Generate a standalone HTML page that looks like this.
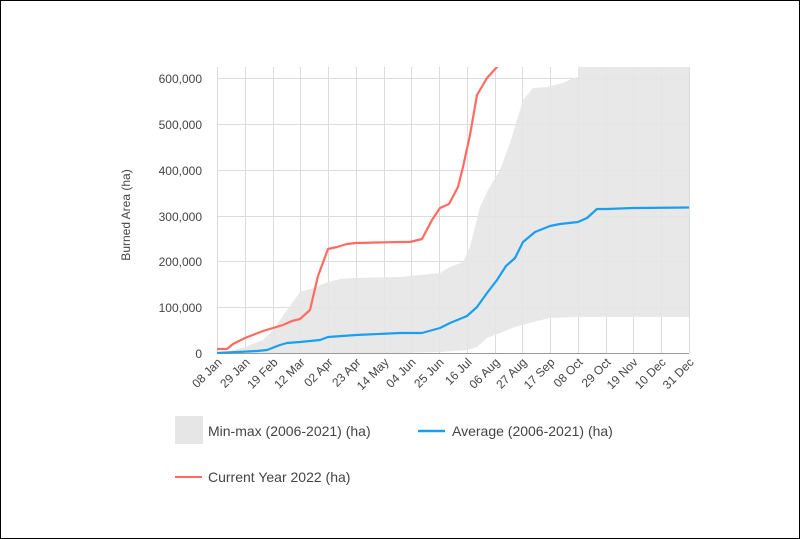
<!DOCTYPE html>
<html><head><meta charset="utf-8"><style>
html,body{margin:0;padding:0;background:#fff}
svg{display:block}
text{font-family:"Liberation Sans",Arial,sans-serif;fill:#444}
</style></head><body>
<svg width="800" height="539" viewBox="0 0 800 539" xmlns="http://www.w3.org/2000/svg">
<rect x="0.5" y="0.5" width="799" height="538" fill="#fff" stroke="#000"/>
<defs><clipPath id="c"><rect x="217" y="67" width="473" height="287"/></clipPath></defs>
<g stroke="#dcdcdc" stroke-width="1">
<line x1="217" y1="78.5" x2="689" y2="78.5"/>
<line x1="217" y1="124.5" x2="689" y2="124.5"/>
<line x1="217" y1="170.5" x2="689" y2="170.5"/>
<line x1="217" y1="216.5" x2="689" y2="216.5"/>
<line x1="217" y1="261.5" x2="689" y2="261.5"/>
<line x1="217" y1="307.5" x2="689" y2="307.5"/>
</g>
<g stroke="#dcdcdc" stroke-width="1" id="vg"></g>
<g clip-path="url(#c)">
<polygon fill="#e6e6e6" fill-opacity="0.9" points="217,353 233,350 245,347 263,340 273,330 287,310 300,292 313,288 328,282 340,279 356,278 400,277 440,273 450,267 463,262 470,247 480,207 488,190 500,170 510,143 523,100 533,88 547,87 563,83 573,78 578,77 578,67 689,67 689,317 578,317 550,318 533,322 515,327 500,333 487,338 477,347 467,350 440,352 400,353"/>
</g>
<line x1="217" y1="353.5" x2="689" y2="353.5" stroke="#999"/>
<g clip-path="url(#c)" fill="none" stroke-width="2.2" stroke-linejoin="round">
<polyline stroke="#ff6b61" points="217,349 227,349 233,344 245,338 263,331 273,328 283,325 292,321 300,319 310,310 318,276 328,249 337,247 347,244 356,243 400,242 410,242 422,239 432,220 440,208 449,204 458,187 463,167 470,135 477,95 487,78 497,67 499,60"/>
<polyline stroke="#1a9ff0" points="217,353 257,351 267,350 280,345 287,343 300,342 320,340 328,337 356,335 400,333 422,333 440,328 450,323 467,316 477,307 487,293 497,280 506,266 515,258 523,242 535,232 550,226 560,224 578,222 587,218 597,209 607,209 633,208 689,207.5"/>
</g>
<g font-size="12" text-anchor="end">
<text x="202" y="83">600,000</text>
<text x="202" y="129">500,000</text>
<text x="202" y="175">400,000</text>
<text x="202" y="221">300,000</text>
<text x="202" y="266">200,000</text>
<text x="202" y="312">100,000</text>
<text x="202" y="358">0</text>
</g>
<text font-size="12" transform="translate(130,215) rotate(-90)" text-anchor="middle">Burned Area (ha)</text>
<g font-size="12" text-anchor="end" id="xl"></g>
<rect x="175" y="416" width="28" height="28" fill="#e6e6e6"/>
<text x="208" y="436" font-size="14">Min-max (2006-2021) (ha)</text>
<line x1="418" y1="431" x2="445" y2="431" stroke="#1a9ff0" stroke-width="2.5"/>
<text x="452" y="436" font-size="14">Average (2006-2021) (ha)</text>
<line x1="175" y1="477" x2="202" y2="477" stroke="#ff6b61" stroke-width="2"/>
<text x="208" y="482" font-size="14">Current Year 2022 (ha)</text>
</svg>
<script>
var labs=["08 Jan","29 Jan","19 Feb","12 Mar","02 Apr","23 Apr","14 May","04 Jun","25 Jun","16 Jul","06 Aug","27 Aug","17 Sep","08 Oct","29 Oct","19 Nov","10 Dec","31 Dec"];
var ns="http://www.w3.org/2000/svg",vg=document.getElementById("vg"),xl=document.getElementById("xl");
for(var i=0;i<18;i++){var x=Math.round(217+27.76*i)+0.5;
var l=document.createElementNS(ns,"line");l.setAttribute("x1",x);l.setAttribute("x2",x);l.setAttribute("y1",67);l.setAttribute("y2",353);vg.appendChild(l);
var t=document.createElementNS(ns,"text");t.setAttribute("transform","translate("+(x+5)+",363) rotate(-45)");t.textContent=labs[i];xl.appendChild(t);}
</script>
</body></html>
